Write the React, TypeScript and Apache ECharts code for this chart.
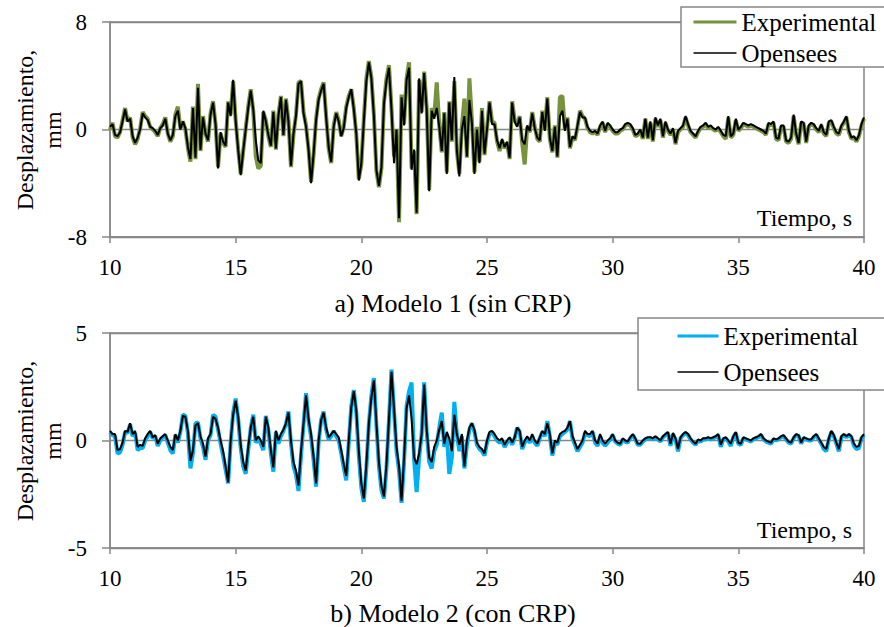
import { useEffect, useRef } from "react";
import * as echarts from "echarts";

// Sampling of the time histories (s)
const T_START = 10;
const T_STEP = 0.1;

// Axis settings
const X_MIN = 10;
const X_MAX = 40;
const X_INTERVAL = 5;
const TOP_Y_LIMIT = 8;
const BOTTOM_Y_LIMIT = 5;

// Texts
const Y_NAME = "Desplazamiento,\nmm";
const X_NAME = "Tiempo, s";
const TITLE_TOP = "a) Modelo 1 (sin CRP)";
const TITLE_BOTTOM = "b) Modelo 2 (con CRP)";
const SERIES_EXP = "Experimental";
const SERIES_OS = "Opensees";

// a) Modelo 1 (sin CRP) — displacement, mm, every 0.1 s from 10 s to 40 s
const TOP_OPENSEES = [
  0.2, 0.4, -0.4, -0.5, -0.2, 0.6, 1.5, 0.6, 0.8, -0.5,
  -1.0, -0.6, 0.0, 1.2, 0.9, 0.7, 0.2, 0.1, -0.1, -0.4,
  0.1, 0.3, 0.8, -0.3, -0.8, -0.4, 1.0, 1.4, 0.0, 0.6,
  0.1, -1.3, -2.2, 1.6, -2.1, 3.1, -1.5, 0.9, -0.3, -0.8,
  1.1, 2.0, 0.4, -2.9, -0.2, -0.9, -1.2, 2.0, 1.0, 3.7,
  0.6, -1.5, -3.4, -1.6, 0.0, 1.6, 2.9, 1.5, -0.8, -2.3,
  -2.5, 1.4, 0.6, -0.4, -1.2, 1.3, -1.4, 1.0, 2.4, -0.4,
  2.2, 0.6, -2.7, -0.3, 1.0, 3.4, 3.6, 1.2, 0.2, -1.5,
  -4.0, -1.8, 0.7, 2.2, 2.9, 3.4, 0.9, -1.3, -2.4, 0.2,
  1.2, 0.6, -0.5, 0.1, 1.6, 2.4, 3.0, 1.5, -0.3, -3.8,
  -2.5,
  0.6, 3.6, 5.0, 3.8, 1.0, -3.0, -4.2, -2.8, 1.9, 3.6,
  4.6, 1.5, -2.5, 0.0, -6.6, 2.4, 0.3, 3.7, 4.6, -3.0,
  -1.5, -6.2, 3.8, 1.2, 4.2, 1.5, -4.6, 1.4, 0.8, 1.6,
  0.2, -1.6, 1.2, -3.3, 2.0, -0.8, 3.9, -1.5, -3.5, 0.0,
  1.0, -2.0, 2.2, 0.5, -3.3, 0.0, -2.5, 1.4, -1.8, 0.0,
  2.0, 0.4, 0.4, -0.8, -1.4, -0.7, -1.3, -0.9, -2.1, 2.0,
  0.6, 0.2, 0.9, -0.8, -1.1, 0.3, -0.1, 1.2, 0.1, -0.6,
  -0.8, 1.3, -0.1, 2.3, -0.6, -1.6, 0.2, -2.0, 1.0, 1.4,
  -0.1, 0.8, -1.3, -0.5, -0.7, 0.3, 1.3, 0.9, 0.9, 0.2,
  -0.1, -0.2, -0.1, -0.3, 0.3, 0.6, -0.1, 0.5, 0.3, 0.0,
  -0.2, -0.2, 0.0, 0.1, 0.4, 0.5, 0.4, 0.1, -0.4, -0.3,
  0.0, -0.6, 0.8, -0.6, 0.6, -0.8, 0.9, 0.3, 0.8, -0.5,
  0.6, 0.0, -0.3, 0.1, -1.0, -0.1, 0.1, 0.3, 1.0, 0.4,
  -0.1, -0.3, -0.5, -0.1, 0.2, 0.3, 0.5, 0.2, 0.3, 0.1,
  0.0, 0.2, -0.1, -0.4, -0.5, 1.0, -0.5, -0.3, 0.8, 0.0,
  0.2, 0.5, 0.4, 0.3, 0.4, 0.3, 0.2, 0.1, 0.0, -0.1,
  -0.3, 0.5, 0.4, 0.6, -0.6, -0.7, 0.3, 0.3, -0.8, -0.9,
  -0.6, 1.1, -0.3, -1.0, 0.6, 0.5, -0.9, 0.3, 0.5, 0.4,
  0.1, -0.1, 0.4, -0.2, -0.4, 0.6, 0.7, 0.2, -0.2, -0.3,
  0.3, 0.6, 1.0, -0.1, -0.6, -0.5, -0.8, -0.4, 0.4, 0.9,
];

const TOP_EXPERIMENTAL = [
  0.0, 0.5, -0.5, -0.6, -0.2, 0.7, 1.6, 0.6, 0.9, -0.6,
  -1.1, -0.7, 0.1, 1.3, 1.0, 0.8, 0.2, 0.0, -0.2, -0.5,
  0.1, 0.4, 0.9, -0.3, -0.9, -0.5, 1.1, 1.7, 0.1, 0.6,
  0.0, -1.4, -2.4, 1.7, -2.2, 3.4, -1.6, 1.0, -0.3, -0.9,
  1.2, 2.1, 0.4, -2.8, -0.3, -1.0, -1.3, 2.1, 1.1, 3.6,
  0.7, -1.5, -3.3, -1.6, 0.1, 1.7, 3.0, 1.4, -2.0, -2.9,
  -2.7, 1.3, 0.7, -0.5, -1.3, 1.4, -1.5, 1.1, 2.5, -0.5,
  2.3, 0.7, -2.8, -0.4, 1.1, 3.5, 3.6, 1.3, 0.3, -1.5,
  -3.9, -1.9, 0.8, 2.3, 3.0, 3.5, 1.0, -1.4, -2.5, 0.3,
  1.3, 0.7, -0.5, 0.2, 1.7, 2.5, 3.0, 1.6, -0.4, -3.7,
  -2.6,
  0.8, 3.8, 5.1, 3.9, 1.1, -3.1, -4.3, -2.9, 2.0, 3.8,
  4.8, 1.6, -2.0, 0.0, -6.9, 2.6, 0.4, 3.8, 5.0, -2.9,
  -1.6, -6.3, 3.7, 1.3, 4.3, 1.6, -4.5, 1.6, 1.0, 3.5,
  0.3, -1.7, 1.3, -3.2, 2.1, -0.9, 3.6, -1.6, -3.3, 0.2,
  2.3, -2.1, 3.8, 0.7, -3.2, 0.2, -2.4, 1.6, -1.9, 0.1,
  2.1, 0.6, 0.5, -0.9, -1.6, -0.8, -1.4, -1.0, -2.2, 2.1,
  0.7, 0.3, 1.0, -1.0, -2.6, 0.2, -0.2, 1.3, 0.2, -0.7,
  -0.9, 1.4, 0.0, 2.4, -0.7, -1.7, 0.3, -2.1, 2.4, 2.5,
  0.0, 0.9, -1.4, -0.6, -0.8, 0.2, 1.4, 1.0, 0.8, 0.1,
  -0.2, -0.3, -0.2, -0.4, 0.2, 0.5, -0.2, 0.4, 0.2, -0.1,
  -0.3, -0.3, -0.1, 0.0, 0.3, 0.4, 0.3, 0.0, -0.5, -0.4,
  -0.1, -0.7, 0.8, -0.7, 0.5, -0.9, 0.8, 0.2, 0.7, -0.6,
  0.5, -0.1, -0.4, 0.0, -1.1, -0.2, 0.0, 0.2, 0.9, 0.3,
  -0.2, -0.4, -0.6, -0.2, 0.1, 0.2, 0.4, 0.1, 0.2, 0.0,
  -0.1, 0.1, -0.2, -0.5, -0.7, 0.9, -0.6, -0.4, 0.7, -0.1,
  0.1, 0.4, 0.3, 0.2, 0.3, 0.2, 0.1, 0.0, -0.1, -0.2,
  -0.4, 0.4, 0.3, 0.5, -0.7, -0.8, 0.2, 0.2, -0.9, -1.0,
  -0.7, 1.0, -0.4, -1.1, 0.5, 0.4, -1.0, 0.2, 0.4, 0.3,
  0.0, -0.2, 0.3, -0.3, -0.5, 0.5, 0.6, 0.1, -0.3, -0.4,
  0.2, 0.5, 0.9, -0.2, -0.7, -0.6, -0.9, -0.5, 0.3, 0.8,
];

// b) Modelo 2 (con CRP) — displacement, mm, every 0.1 s from 10 s to 40 s
const BOTTOM_OPENSEES = [
  0.45, 0.3, 0.3, -0.45, -0.4, -0.1, 0.45, 0.4, 0.8, 0.3,
  0.45, -0.3, -0.2, -0.25, 0.1, 0.3, 0.45, 0.15, 0.25, -0.15,
  0.1, 0.2, 0.3, 0.0, -0.3, -0.45, 0.3, 0.0, 0.45, 1.15,
  1.1, 0.45, -0.95, -0.45, 0.7, 0.8, 0.2, -0.15, -0.75, 0.1,
  0.3, 1.1, 1.0, 0.6, 0.0, -0.5, -1.2, -1.95, 0.0, 1.2,
  1.85, 1.1, -0.2, -1.0, -1.4, -0.3, 0.6, 1.1, 0.0, 0.2,
  0.0, -0.3, 1.1, 0.6, -0.45, -1.25, 0.45, 0.0, 0.3, 0.5,
  0.8, 1.3, 0.0, -1.0, -1.4, -2.1, -0.5, 0.8, 2.1, 1.0,
  0.3, -0.75, -2.0, 0.0, 0.95, 1.3, 0.6, 0.15, 0.3, 0.45,
  0.3, 0.15, -0.45, -1.1, -1.65, 0.0, 1.55, 2.3, 1.4, -0.5,
  -2.0,
  -2.7, -1.1, 0.8, 2.0, 2.8, 0.8, -1.0, -2.1, -2.6, -1.1,
  1.0, 3.2, 1.5, -0.3, -1.2, -2.8, -0.8, 1.5, 2.1, 1.0,
  -0.8, -1.1, -0.6, 0.3, 2.6, 0.5, -0.8, -1.0, -0.3, 0.0,
  0.5, 0.9, -0.15, 0.4, 0.1, -0.5, 1.2, 0.3, -0.2, 0.3,
  -1.2, 0.0, 0.6, 0.8, 0.5, -0.1, -0.3, -0.4, -0.6, 0.0,
  0.4, 0.45, 0.3, 0.1, 0.0, 0.1, -0.2, 0.0, 0.15, -0.1,
  0.15, 0.6, 0.45, -0.3, 0.0, 0.2, 0.0, 0.3, 0.0, -0.15,
  0.15, 0.45, 0.3, 0.8, 0.3, -0.6, 0.0, -0.1, 0.3, 0.4,
  0.45, 0.6, 0.9, 0.2, -0.1, -0.4, -0.2, 0.0, 0.45, 0.3,
  0.3, 0.45, 0.0, -0.15, 0.3, 0.0, -0.15, 0.0, 0.1, 0.3,
  0.0, -0.1, -0.15, 0.1, 0.0, -0.05, 0.15, 0.3, 0.1, -0.15,
  -0.15, 0.0, 0.1, 0.15, 0.15, 0.1, 0.2, 0.1, 0.0, 0.2,
  0.3, 0.4, -0.15, 0.35, 0.1, -0.4, 0.15, 0.3, 0.4, 0.3,
  0.1, -0.05, -0.15, 0.05, 0.0, 0.1, 0.1, 0.15, 0.1, 0.15,
  0.2, 0.3, -0.2, 0.1, 0.15, 0.0, -0.15, 0.2, 0.4, -0.1,
  -0.15, 0.15, 0.1, 0.05, 0.0, 0.1, 0.15, 0.2, 0.3, 0.1,
  0.0, -0.05, -0.1, 0.1, 0.05, 0.1, 0.2, 0.25, 0.1, -0.05,
  -0.1, 0.15, 0.3, 0.25, -0.1, 0.15, 0.1, 0.05, 0.05, 0.2,
  0.3, 0.1, -0.1, -0.3, -0.4, 0.1, 0.45, 0.25, -0.1, -0.4,
  0.2, 0.3, 0.2, 0.3, 0.2, -0.15, -0.3, -0.25, 0.15, 0.3,
];

const BOTTOM_EXPERIMENTAL = [
  0.4, 0.25, 0.2, -0.6, -0.55, -0.2, 0.4, 0.35, 0.75, 0.2,
  0.35, -0.45, -0.35, -0.35, 0.0, 0.2, 0.4, 0.1, 0.2, -0.25,
  0.0, 0.15, 0.25, -0.1, -0.45, -0.6, 0.25, -0.1, 0.4, 1.2,
  1.15, 0.35, -1.3, -0.6, 0.8, 0.85, 0.1, -0.3, -0.9, 0.0,
  0.25, 1.2, 1.1, 0.5, -0.15, -0.7, -1.35, -2.0, -0.1, 1.3,
  1.95, 1.0, -0.35, -1.2, -1.55, -0.45, 0.6, 1.2, -0.1, 0.1,
  -0.15, -0.45, 1.15, 0.5, -0.6, -1.45, 0.4, -0.15, 0.2, 0.45,
  0.75, 1.35, -0.15, -1.2, -1.6, -2.35, -0.7, 0.75, 2.2, 0.9,
  0.15, -0.9, -2.15, -0.1, 0.95, 1.35, 0.5, 0.05, 0.2, 0.45,
  0.2, 0.0, -0.6, -1.25, -1.85, -0.1, 1.6, 2.35, 1.3, -0.7,
  -2.2,
  -2.85, -1.3, 0.8, 2.1, 2.9, 0.7, -1.2, -2.3, -2.7, -1.3,
  1.0, 3.3, 1.4, -0.5, -1.4, -2.9, -1.0, 1.6, 2.3, 2.7,
  -0.9, -2.4, -0.8, 0.3, 2.7, 0.4, -1.0, -1.3, -0.5, -0.2,
  0.6, 1.3, -0.3, 0.3, -1.55, -0.8, 1.8, 0.3, -0.5, 0.2,
  -1.3, -0.2, 0.5, 0.8, 0.4, -0.2, -0.4, -0.5, -0.7, -0.1,
  0.3, 0.4, 0.2, 0.0, -0.1, 0.0, -0.3, -0.1, 0.1, -0.2,
  0.1, 0.6, 0.4, -0.4, -0.1, 0.1, -0.1, 0.2, -0.1, -0.25,
  0.1, 0.4, 0.2, 0.9, 0.2, -0.7, -0.1, -0.2, 0.2, 0.3,
  0.4, 0.5, 0.9, 0.1, -0.2, -0.5, -0.3, -0.1, 0.35, 0.25,
  0.2, 0.4, -0.1, -0.25, 0.2, -0.1, -0.25, -0.1, 0.05, 0.25,
  -0.05, -0.15, -0.2, 0.05, -0.05, -0.1, 0.1, 0.25, 0.05, -0.2,
  -0.2, -0.05, 0.05, 0.1, 0.1, 0.05, 0.15, 0.05, -0.05, 0.15,
  0.25, 0.35, -0.25, 0.3, 0.05, -0.5, 0.1, 0.25, 0.35, 0.25,
  0.05, -0.1, -0.2, 0.0, -0.05, 0.05, 0.05, 0.1, 0.05, 0.1,
  0.15, 0.25, -0.3, 0.05, 0.1, -0.05, -0.25, 0.15, 0.35, -0.15,
  -0.2, 0.1, 0.05, 0.0, -0.05, 0.05, 0.1, 0.15, 0.25, 0.05,
  -0.05, -0.1, -0.15, 0.05, 0.0, 0.05, 0.15, 0.2, 0.05, -0.1,
  -0.15, 0.1, 0.25, 0.2, -0.15, 0.1, 0.05, 0.0, 0.0, 0.15,
  0.25, 0.05, -0.15, -0.4, -0.5, 0.05, 0.4, 0.2, -0.15, -0.5,
  0.15, 0.25, 0.15, 0.25, 0.15, -0.25, -0.4, -0.35, 0.1, 0.25,
];

const GREEN = "#77933C";
const BLUE = "#00B0F0";
const BLACK = "#000000";
const AXIS_GREY = "#878787";
const FONT = '"Liberation Serif", "Times New Roman", serif';

const toPairs = (values: number[]) =>
  values.map((v, i) => [Number((T_START + i * T_STEP).toFixed(1)), v]);

export default function App() {
  const ref = useRef<HTMLDivElement>(null);

  useEffect(() => {
    if (!ref.current) return;
    const chart = echarts.init(ref.current, undefined, { renderer: "svg" });

    const grids = [
      { left: 110, top: 22, width: 754, height: 215 },
      { left: 110, top: 333, width: 754, height: 215 },
    ];

    const xAxisBase = (gridIndex: number) => ({
      type: "value" as const,
      gridIndex,
      min: X_MIN,
      max: X_MAX,
      interval: X_INTERVAL,
      axisLine: { show: true, onZero: false, lineStyle: { color: AXIS_GREY, width: 1.5 } },
      axisTick: { show: true, inside: false, length: 6, lineStyle: { color: AXIS_GREY, width: 1.5 } },
      axisLabel: { color: BLACK, fontSize: 23, fontFamily: FONT, margin: 19 },
      splitLine: { show: false },
    });

    const yAxisBase = (gridIndex: number, lim: number) => ({
      type: "value" as const,
      gridIndex,
      min: -lim,
      max: lim,
      interval: lim,
      axisLine: { show: true, lineStyle: { color: AXIS_GREY, width: 1.5 } },
      axisTick: { show: true, inside: false, length: 8, lineStyle: { color: AXIS_GREY, width: 1.5 } },
      axisLabel: { color: BLACK, fontSize: 23, fontFamily: FONT, margin: 23 },
      splitLine: { show: true, lineStyle: { color: AXIS_GREY, width: 1.3 } },
    });

    const legendText = { color: BLACK, fontSize: 25, fontFamily: FONT, lineHeight: 26 };

    const option = {
      animation: false,
      backgroundColor: "#ffffff",
      textStyle: { fontFamily: FONT },
      grid: grids.map((g) => ({
        ...g,
        show: true,
        borderColor: AXIS_GREY,
        borderWidth: 1.5,
        backgroundColor: "transparent",
      })),
      xAxis: [xAxisBase(0), xAxisBase(1)],
      yAxis: [yAxisBase(0, TOP_Y_LIMIT), yAxisBase(1, BOTTOM_Y_LIMIT)],
      legend: [
        {
          left: 681,
          top: 7,
          orient: "vertical",
          padding: [2, 60, 1, 11],
          itemGap: 5,
          itemWidth: 43,
          itemHeight: 26,
          backgroundColor: "#ffffff",
          borderColor: AXIS_GREY,
          borderWidth: 1.5,
          borderRadius: 0,
          selectedMode: false,
          textStyle: legendText,
          itemStyle: { opacity: 0 },
          data: [
            { name: SERIES_EXP, lineStyle: { color: GREEN, width: 3 } },
            { name: SERIES_OS, lineStyle: { color: BLACK, width: 1.5 } },
          ],
        },
        {
          left: 638,
          top: 318,
          orient: "vertical",
          padding: [5, 60, 5, 38],
          itemGap: 10,
          itemWidth: 41,
          itemHeight: 26,
          backgroundColor: "#ffffff",
          borderColor: AXIS_GREY,
          borderWidth: 1.5,
          borderRadius: 0,
          selectedMode: false,
          textStyle: legendText,
          itemStyle: { opacity: 0 },
          data: [
            { name: SERIES_EXP, lineStyle: { color: BLUE, width: 3 } },
            { name: SERIES_OS, lineStyle: { color: BLACK, width: 1.5 } },
          ],
        },
      ],
      series: [
        {
          name: SERIES_EXP,
          type: "line",
          xAxisIndex: 0,
          yAxisIndex: 0,
          data: toPairs(TOP_EXPERIMENTAL),
          symbol: "none",
          lineStyle: { color: GREEN, width: 4 },
          itemStyle: { color: GREEN },
          z: 2,
        },
        {
          name: SERIES_OS,
          type: "line",
          xAxisIndex: 0,
          yAxisIndex: 0,
          data: toPairs(TOP_OPENSEES),
          symbol: "none",
          lineStyle: { color: BLACK, width: 2 },
          itemStyle: { color: BLACK },
          z: 3,
        },
        {
          name: SERIES_EXP,
          type: "line",
          xAxisIndex: 1,
          yAxisIndex: 1,
          data: toPairs(BOTTOM_EXPERIMENTAL),
          symbol: "none",
          lineStyle: { color: BLUE, width: 4 },
          itemStyle: { color: BLUE },
          z: 2,
        },
        {
          name: SERIES_OS,
          type: "line",
          xAxisIndex: 1,
          yAxisIndex: 1,
          data: toPairs(BOTTOM_OPENSEES),
          symbol: "none",
          lineStyle: { color: BLACK, width: 2 },
          itemStyle: { color: BLACK },
          z: 3,
        },
      ],
      graphic: [
        {
          type: "text",
          x: 39,
          y: 130,
          rotation: Math.PI / 2,
          style: {
            text: Y_NAME,
            fill: BLACK,
            font: `24px ${FONT}`,
            align: "center",
            verticalAlign: "middle",
            lineHeight: 28,
          },
        },
        {
          type: "text",
          x: 39,
          y: 441,
          rotation: Math.PI / 2,
          style: {
            text: Y_NAME,
            fill: BLACK,
            font: `24px ${FONT}`,
            align: "center",
            verticalAlign: "middle",
            lineHeight: 28,
          },
        },
        {
          type: "text",
          x: 852,
          y: 218,
          style: { text: X_NAME, fill: BLACK, font: `24px ${FONT}`, align: "right", verticalAlign: "middle" },
        },
        {
          type: "text",
          x: 852,
          y: 530,
          style: { text: X_NAME, fill: BLACK, font: `24px ${FONT}`, align: "right", verticalAlign: "middle" },
        },
        {
          type: "text",
          x: 453,
          y: 303,
          style: { text: TITLE_TOP, fill: BLACK, font: `26px ${FONT}`, align: "center", verticalAlign: "middle" },
        },
        {
          type: "text",
          x: 453,
          y: 613,
          style: { text: TITLE_BOTTOM, fill: BLACK, font: `26px ${FONT}`, align: "center", verticalAlign: "middle" },
        },
      ],
    };

    chart.setOption(option as any);
    return () => chart.dispose();
  }, []);

  return (
    <div
      ref={ref}
      style={{ position: "absolute", left: 0, top: 0, width: 884, height: 627, background: "#fff" }}
    />
  );
}
